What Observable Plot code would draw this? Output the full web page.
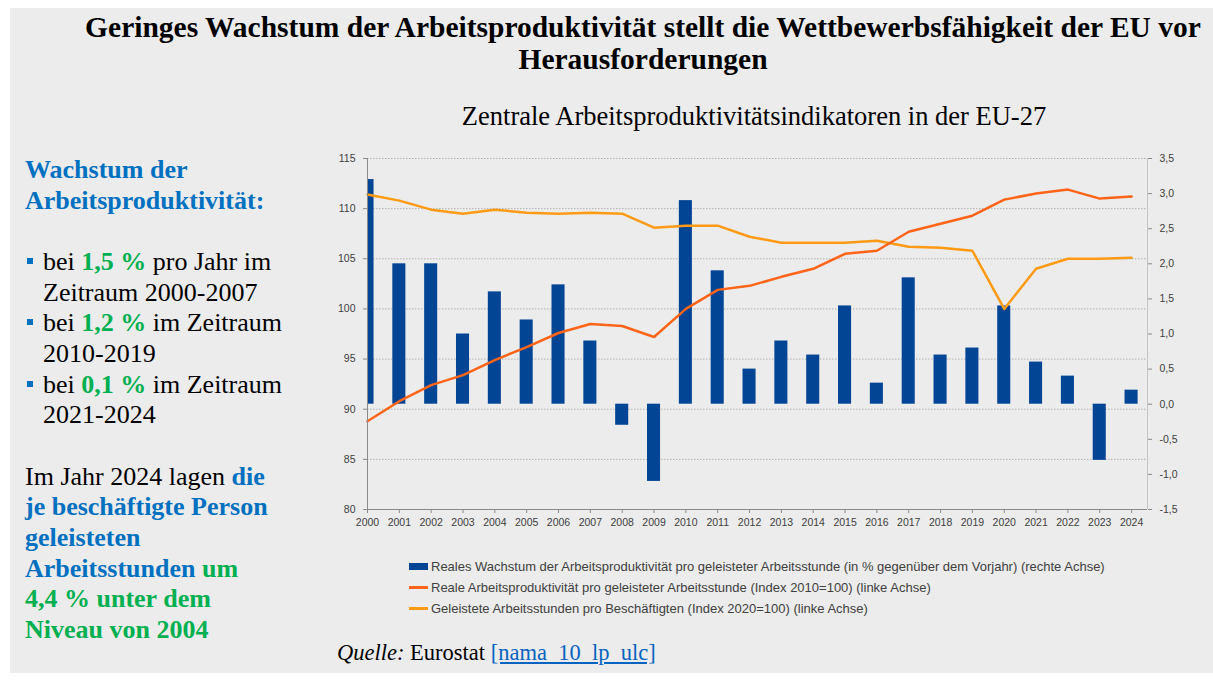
<!DOCTYPE html>
<html>
<head>
<meta charset="utf-8">
<script src="https://cdn.jsdelivr.net/npm/d3@7"></script>
<script src="https://cdn.jsdelivr.net/npm/@observablehq/plot@0.6"></script>
<style>
  html, body { margin: 0; padding: 0; }
  body { width: 1213px; height: 684px; overflow: hidden; position: relative; background: #ffffff; }
  #panel { position: absolute; left: 10px; top: 8px; width: 1203px; height: 665px; background: #ececec; }
  .abs { position: absolute; white-space: nowrap; }
  #title { left: 43px; top: 11px; width: 1200px; text-align: center; font: bold 29.5px/32px "Liberation Serif", "Times New Roman", serif; color: #000; }
  #subtitle { left: 354px; top: 101px; width: 800px; text-align: center; font: 26.5px/30px "Liberation Serif", serif; color: #000; }
  #left { left: 25px; top: 155px; font: 26px/30.67px "Liberation Serif", serif; color: #000; }
  #left .ln { position: relative; height: 30.67px; }
  #left .ind { padding-left: 18px; }
  .blue { color: #0070c0; font-weight: bold; }
  .green { color: #00b050; font-weight: bold; }
  .sq { position: absolute; left: 2px; top: 11px; width: 6px; height: 6px; background: #0070c0; }
  #chart { left: 330px; top: 145px; }
  #legend { left: 409px; top: 556px; font: 13px/21px "Liberation Sans", Arial, sans-serif; color: #404040; }
  #legend .row { display: flex; align-items: center; height: 21px; }
  #legend .sw { width: 19px; margin-right: 3px; }
  #source { left: 337px; top: 640px; font: 22.5px/26px "Liberation Serif", serif; color: #000; }
  #source a { color: #0563c1; text-decoration: underline; }
</style>
</head>
<body>
<div id="panel"></div>
<div id="title" class="abs">Geringes Wachstum der Arbeitsproduktivität stellt die Wettbewerbsfähigkeit der EU vor<br>Herausforderungen</div>
<div id="subtitle" class="abs">Zentrale Arbeitsproduktivitätsindikatoren in der EU-27</div>
<div id="left" class="abs">
  <div class="ln"><span class="blue">Wachstum der</span></div>
  <div class="ln"><span class="blue">Arbeitsproduktivität:</span></div>
  <div class="ln"></div>
  <div class="ln ind"><span class="sq"></span>bei <span class="green">1,5 %</span> pro Jahr im</div>
  <div class="ln ind">Zeitraum 2000-2007</div>
  <div class="ln ind"><span class="sq"></span>bei <span class="green">1,2 %</span> im Zeitraum</div>
  <div class="ln ind">2010-2019</div>
  <div class="ln ind"><span class="sq"></span>bei <span class="green">0,1 %</span> im Zeitraum</div>
  <div class="ln ind">2021-2024</div>
  <div class="ln"></div>
  <div class="ln">Im Jahr 2024 lagen <span class="blue">die</span></div>
  <div class="ln"><span class="blue">je beschäftigte Person</span></div>
  <div class="ln"><span class="blue">geleisteten</span></div>
  <div class="ln"><span class="blue">Arbeitsstunden</span> <span class="green">um</span></div>
  <div class="ln"><span class="green">4,4 % unter dem</span></div>
  <div class="ln"><span class="green">Niveau von 2004</span></div>
</div>
<div id="chart" class="abs"></div>
<div id="legend" class="abs"></div>
<div id="source" class="abs"><i>Quelle:</i> Eurostat <a href="#">[nama_10_lp_ulc]</a></div>
<script>
// ---- data ----
const years = [2000, 2001, 2002, 2003, 2004, 2005, 2006, 2007, 2008, 2009, 2010, 2011, 2012,
               2013, 2014, 2015, 2016, 2017, 2018, 2019, 2020, 2021, 2022, 2023, 2024];
// Real growth of labour productivity per hour worked (% vs previous year) - right axis
const growth = [3.2, 2.0, 2.0, 1.0, 1.6, 1.2, 1.7, 0.9, -0.3, -1.1, 2.9, 1.9, 0.5,
                0.9, 0.7, 1.4, 0.3, 1.8, 0.7, 0.8, 1.4, 0.6, 0.4, -0.8, 0.2];
// Real labour productivity per hour worked (Index 2010=100) - left axis
const productivity = [88.8, 90.8, 92.4, 93.4, 94.9, 96.2, 97.6, 98.5, 98.3, 97.2, 100.0, 101.9, 102.3,
                      103.2, 104.0, 105.5, 105.8, 107.7, 108.5, 109.3, 110.9, 111.5, 111.9, 111.0, 111.2];
// Hours worked per employed person (Index 2020=100) - left axis
const hours = [111.4, 110.8, 109.9, 109.5, 109.9, 109.6, 109.5, 109.6, 109.5, 108.1, 108.3, 108.3, 107.2,
               106.6, 106.6, 106.6, 106.8, 106.2, 106.1, 105.8, 100.0, 104.0, 105.0, 105.0, 105.1];
const leftTicks = [80, 85, 90, 95, 100, 105, 110, 115];
const rightTicks = [-1.5, -1.0, -0.5, 0.0, 0.5, 1.0, 1.5, 2.0, 2.5, 3.0, 3.5];
const seriesLabels = [
  "Reales Wachstum der Arbeitsproduktivität pro geleisteter Arbeitsstunde (in % gegenüber dem Vorjahr) (rechte Achse)",
  "Reale Arbeitsproduktivität pro geleisteter Arbeitsstunde (Index 2010=100) (linke Achse)",
  "Geleistete Arbeitsstunden pro Beschäftigten (Index 2020=100) (linke Achse)"
];
const colors = ["#034595", "#ff6418", "#ff9a14"];

// ---- dual axis mapping: right axis [-1.5, 3.5] onto left axis [80, 115] ----
const toLeft = v => 80 + (v + 1.5) * 7;
const fromLeft = d => (d - 80) / 7 - 1.5;
const fmtRight = d => { const v = Math.round(fromLeft(d) * 10) / 10; return (v === 0 ? 0 : v).toFixed(1).replace(".", ","); };

const data = years.map((year, i) => ({ year, growth: growth[i], prod: productivity[i], hours: hours[i] }));

const chart = Plot.plot({
  width: 870,
  height: 395,
  marginLeft: 37,
  marginRight: 53,
  marginTop: 13,
  marginBottom: 31,
  x: { domain: [2000, 2024.5], axis: null },
  y: { domain: [80, 115], axis: null },
  style: { fontFamily: "'Liberation Sans', Arial, sans-serif", fontSize: "10.5px", color: "#404040", background: "transparent", overflow: "visible" },
  marks: [
    Plot.ruleY(leftTicks.filter(t => t > 80), { stroke: "#b0b0b0", strokeDasharray: "1.5,1.5", strokeWidth: 1 }),
    Plot.rectY(data, {
      x1: d => d.year - 0.205,
      x2: d => d.year + 0.205,
      y1: () => toLeft(0),
      y2: d => toLeft(d.growth),
      fill: colors[0],
      clip: true
    }),
    Plot.line(data, { x: "year", y: "hours", stroke: colors[2], strokeWidth: 2.5, strokeLinejoin: "round" }),
    Plot.line(data, { x: "year", y: "prod", stroke: colors[1], strokeWidth: 2.5, strokeLinejoin: "round" }),
    Plot.ruleY([80], { stroke: "#8a8a8a", strokeWidth: 1 }),
    Plot.ruleX([2000], { y1: 80, y2: 115, stroke: "#8a8a8a", strokeWidth: 1 }),
    Plot.ruleX([2024.5], { y1: 80, y2: 115, stroke: "#c4c4c4", strokeWidth: 1 }),
    Plot.axisX({ ticks: years, tickFormat: d => String(d), label: null, tickSize: 4, tickPadding: 5, stroke: "#8a8a8a", fill: "#404040" }),
    Plot.axisY({ ticks: leftTicks, anchor: "left", label: null, tickFormat: d => String(d), tickSize: 4, tickPadding: 8, stroke: "#8a8a8a", fill: "#404040" }),
    Plot.axisY({ ticks: rightTicks.map(toLeft), anchor: "right", label: null, tickFormat: fmtRight, tickSize: 4, tickPadding: 8, stroke: "#8a8a8a", fill: "#404040" })
  ]
});
document.getElementById("chart").appendChild(chart);

// ---- legend ----
const legend = document.getElementById("legend");
seriesLabels.forEach((label, i) => {
  const row = document.createElement("div");
  row.className = "row";
  const sw = document.createElement("span");
  sw.className = "sw";
  sw.style.background = colors[i];
  sw.style.height = i === 0 ? "7px" : "3px";
  const tx = document.createElement("span");
  tx.textContent = label;
  row.appendChild(sw);
  row.appendChild(tx);
  legend.appendChild(row);
});
</script>
</body>
</html>
